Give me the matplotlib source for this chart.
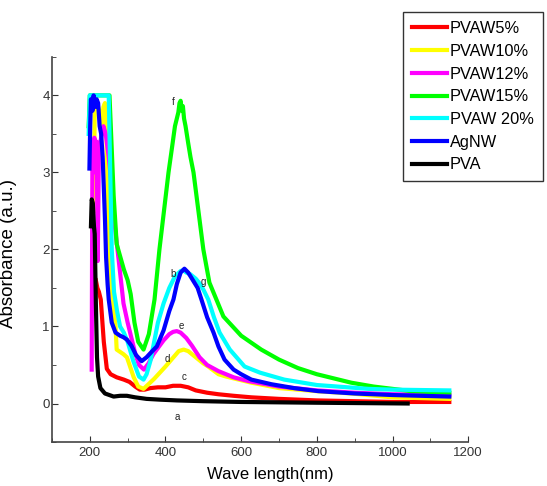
import numpy as np
import matplotlib
matplotlib.use("Agg")
import matplotlib.pyplot as plt
from matplotlib.ticker import MultipleLocator

plt.rcParams['font.family'] = ['Liberation Sans', 'DejaVu Sans']

# UV-vis spectra, wavelength (nm) vs absorbance (a.u.)
wl_pvaw5 = [216, 220, 224, 229, 237, 245, 255, 271, 290, 305, 320, 332, 345, 360, 380, 400,
            420, 440, 460, 480, 510, 540, 580, 627, 700, 800, 900, 1000, 1150]
abs_pvaw5 = [1.6, 1.5, 1.45, 1.35, 0.8, 0.45, 0.38, 0.34, 0.31, 0.28, 0.22, 0.18, 0.18, 0.2, 0.21, 0.21,
             0.23, 0.23, 0.21, 0.17, 0.14, 0.12, 0.1, 0.08, 0.06, 0.04, 0.03, 0.02, 0.02]

wl_pvaw10 = [210, 213, 216, 222, 228, 232, 236, 240, 244, 247, 250, 255, 262, 268, 271, 280, 289, 298,
             305, 316, 328, 342, 355, 370, 385, 400, 421, 435, 448, 460, 480, 500, 513, 540, 560,
             627, 700, 800, 891, 1000, 1150]
abs_pvaw10 = [2.5, 3.8, 3.9, 3.85, 3.75, 3.6, 3.85, 3.9, 3.5, 2.8, 2.0, 1.6, 1.3, 1.0, 0.7, 0.67, 0.64, 0.6,
              0.5, 0.34, 0.22, 0.19, 0.25, 0.32, 0.4, 0.48, 0.6, 0.68, 0.7, 0.68, 0.6, 0.52, 0.48, 0.38, 0.35,
              0.27, 0.2, 0.16, 0.13, 0.08, 0.06]

wl_pvaw12 = [205, 206, 207, 210, 212, 215, 218, 221, 224, 228, 232, 236, 242, 250, 258, 265, 272, 280,
             289, 300, 310, 320, 330, 343, 355, 368, 380, 395, 410, 420, 430, 440, 455, 470, 490, 510,
             540, 580, 620, 700, 800, 900, 1000, 1150]
abs_pvaw12 = [0.44, 2.0, 3.4, 3.0, 3.45, 3.2, 3.4, 1.85, 3.3, 3.4, 3.5, 3.6, 3.5, 3.2, 2.8, 2.35, 2.05, 1.7,
              1.3, 1.05, 0.85, 0.65, 0.5, 0.44, 0.52, 0.64, 0.72, 0.82, 0.9, 0.93, 0.94, 0.92, 0.85, 0.75, 0.6, 0.5,
              0.42, 0.34, 0.29, 0.22, 0.17, 0.14, 0.12, 0.11]

wl_pvaw15 = [197, 200, 252, 258, 263, 271, 290, 300, 308, 318, 328, 342, 356, 371, 384, 396, 408, 418,
             425, 430, 434, 437, 440, 443, 446, 449, 453, 460, 466, 474, 487, 500, 516, 553, 600, 653,
             700, 750, 800, 891, 950, 1000, 1050, 1150]
abs_pvaw15 = [3.6, 4.0, 4.0, 3.3, 2.7, 2.07, 1.74, 1.6, 1.42, 1.05, 0.8, 0.7, 0.9, 1.35, 2.0, 2.5, 3.0, 3.35,
              3.6, 3.7, 3.78, 3.9, 3.93, 3.8, 3.86, 3.7, 3.6, 3.38, 3.2, 3.0, 2.5, 2.0, 1.57, 1.13, 0.88, 0.7,
              0.57, 0.46, 0.38, 0.27, 0.22, 0.19, 0.16, 0.14]

wl_pvaw20 = [197, 200, 250, 254, 258, 264, 272, 280, 290, 300, 315, 330, 342, 350, 360, 370, 380, 395,
             410, 425, 440, 447, 455, 465, 480, 490, 500, 513, 528, 543, 570, 609, 650, 714, 800, 936,
             1000, 1150]
abs_pvaw20 = [3.5, 4.0, 4.0, 3.0, 2.0, 1.45, 1.2, 1.0, 0.92, 0.8, 0.55, 0.35, 0.31, 0.38, 0.55, 0.8, 1.05, 1.3,
              1.5, 1.65, 1.72, 1.73, 1.7, 1.68, 1.62, 1.56, 1.48, 1.35, 1.12, 0.92, 0.7, 0.48, 0.4, 0.31, 0.24, 0.19,
              0.18, 0.17]

wl_agnw = [199, 201, 203, 207, 210, 214, 218, 222, 226, 230, 234, 237, 240, 243, 247, 250, 258, 268,
           280, 289, 298, 310, 322, 337, 350, 365, 377, 395, 410, 421, 430, 440, 450, 460, 475, 485,
           495, 510, 527, 540, 556, 580, 600, 627, 680, 740, 804, 900, 1000, 1150]
abs_agnw = [3.05, 3.6, 3.95, 3.8, 4.0, 3.85, 3.95, 3.9, 3.6, 3.5, 3.2, 2.8, 2.4, 1.9, 1.55, 1.35, 1.05, 0.92,
            0.88, 0.86, 0.83, 0.75, 0.63, 0.55, 0.6, 0.68, 0.74, 0.95, 1.2, 1.35, 1.55, 1.7, 1.75, 1.7, 1.58, 1.5,
            1.35, 1.12, 0.92, 0.74, 0.57, 0.44, 0.38, 0.31, 0.25, 0.2, 0.16, 0.13, 0.11, 0.09]

wl_pva = [203, 205, 208, 211, 213, 216, 219, 222, 228, 240, 263, 280, 298, 320, 350, 385, 430, 500,
          600, 800, 1040]
abs_pva = [2.3, 2.65, 2.6, 2.3, 2.2, 1.3, 0.6, 0.35, 0.2, 0.13, 0.09, 0.1, 0.1, 0.08, 0.06, 0.05, 0.04, 0.03,
           0.02, 0.01, 0.0]

series = [
    ("PVAW5%", wl_pvaw5, abs_pvaw5, "#ff0000"),
    ("PVAW10%", wl_pvaw10, abs_pvaw10, "#ffff00"),
    ("PVAW12%", wl_pvaw12, abs_pvaw12, "#ff00ff"),
    ("PVAW15%", wl_pvaw15, abs_pvaw15, "#00ff00"),
    ("PVAW 20%", wl_pvaw20, abs_pvaw20, "#00ffff"),
    ("AgNW", wl_agnw, abs_agnw, "#0000ff"),
    ("PVA", wl_pva, abs_pva, "#000000"),
]

# curve letters
tags = ["a", "b", "c", "d", "e", "f", "g"]
tag_x = [430, 421, 450, 405, 442, 421, 500]
tag_y = [-0.17, 1.68, 0.35, 0.58, 1.0, 3.91, 1.58]

fig = plt.figure(figsize=(5.47, 4.86), dpi=100)
ax = fig.add_axes([0.095, 0.0905, 0.761, 0.7925])

for name, x, y, c in series:
    ax.plot(x, y, color=c, lw=3, label=name, solid_joinstyle='round')

for t, tx, ty in zip(tags, tag_x, tag_y):
    ax.text(tx, ty, t, fontsize=7, ha='center', va='center', color='#222222')

ax.set_xlim(100, 1200)
ax.set_ylim(-0.5, 4.5)
ax.xaxis.set_major_locator(MultipleLocator(200))
ax.xaxis.set_minor_locator(MultipleLocator(100))
ax.yaxis.set_major_locator(MultipleLocator(1))
ax.yaxis.set_minor_locator(MultipleLocator(0.5))
ax.tick_params(which='both', direction='in', labelsize=9.5, colors='#333333')
ax.tick_params(which='major', length=4)
ax.tick_params(which='minor', length=3)
ax.tick_params(axis='y', pad=1.5)
for s in ['top', 'right']:
    ax.spines[s].set_visible(False)
for s in ['left', 'bottom']:
    ax.spines[s].set_color('#444444')
    ax.spines[s].set_linewidth(1.2)

ax.set_xlabel("Wave length(nm)", fontsize=12)
ax.set_ylabel("Absorbance (a.u.)", fontsize=13.5)
ax.xaxis.set_label_coords(0.524, -0.065)
ax.yaxis.set_label_coords(-0.085, 0.49)

leg = fig.legend(loc='upper left', bbox_to_anchor=(0.737, 0.975), fontsize=11.8,
                 frameon=True, fancybox=False, edgecolor='black', handlelength=2.1,
                 handletextpad=0.2, labelspacing=0.47, borderpad=0.55, borderaxespad=0)
leg.get_frame().set_linewidth(1.0)

fig.savefig("out.png", dpi=100)
